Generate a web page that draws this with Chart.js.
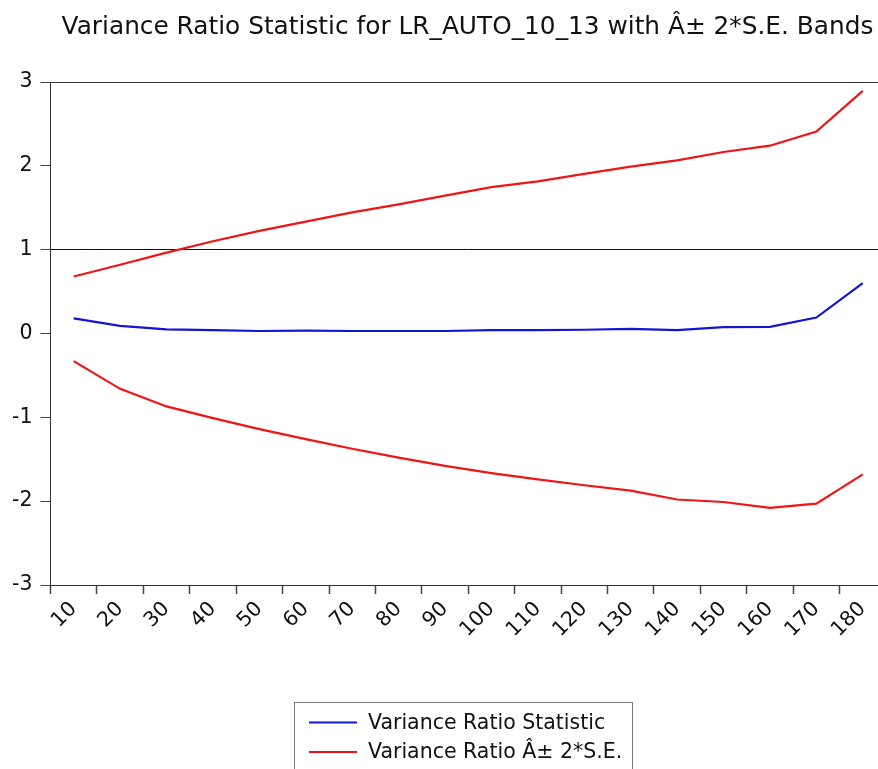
<!DOCTYPE html>
<html>
<head>
<meta charset="utf-8">
<title>Variance Ratio Statistic for LR_AUTO_10_13</title>
<script src="https://cdn.jsdelivr.net/npm/chart.js@4/dist/chart.umd.min.js"></script>
<style>
  html, body { margin: 0; padding: 0; background: #fff; overflow: hidden; }
  #wrap { width: 878px; height: 769px; overflow: hidden; position: relative; }
  canvas { display: block; }
</style>
</head>
<body>
<div id="wrap"><canvas id="chart" width="900" height="769"></canvas></div>
<script>
// Lags (periods) for the variance ratio test
const lags = ['10','20','30','40','50','60','70','80','90','100','110','120','130','140','150','160','170','180'];

// Variance ratio statistic at each lag
const vrStat = [0.18, 0.09, 0.05, 0.04, 0.03, 0.035, 0.03, 0.03, 0.03, 0.04, 0.04, 0.045, 0.055, 0.04, 0.075, 0.08, 0.19, 0.60];

// Upper band: statistic + 2*S.E.
const upperBand = [0.68, 0.82, 0.965, 1.10, 1.225, 1.335, 1.445, 1.54, 1.645, 1.745, 1.815, 1.905, 1.99, 2.065, 2.165, 2.24, 2.41, 2.895];

// Lower band: statistic - 2*S.E.
const lowerBand = [-0.33, -0.66, -0.87, -1.01, -1.14, -1.26, -1.375, -1.48, -1.58, -1.665, -1.74, -1.81, -1.875, -1.98, -2.01, -2.08, -2.03, -1.68];

// Y axis tick values
const yTicks = [-3, -2, -1, 0, 1, 2, 3];

const titleText = 'Variance Ratio Statistic for LR_AUTO_10_13 with Â± 2*S.E. Bands';
const statLabel = 'Variance Ratio Statistic';
const bandLabel = 'Variance Ratio Â± 2*S.E.';

const FONT = '"DejaVu Sans", "Liberation Sans", Arial, sans-serif';
const BLUE = '#1414d6';
const RED = '#f01414';

// Title drawn above the plot
const titlePlugin = {
  id: 'topTitle',
  afterDraw(chart) {
    const ctx = chart.ctx;
    ctx.save();
    ctx.font = '24.8px ' + FONT;
    ctx.fillStyle = '#111';
    ctx.textAlign = 'center';
    ctx.textBaseline = 'middle';
    ctx.fillText(titleText, 467.5, 28);
    ctx.restore();
  }
};

// Top and right edges of the plotting frame (left/bottom come from the axes)
const framePlugin = {
  id: 'frame',
  afterDatasetsDraw(chart) {
    const {ctx, chartArea: a} = chart;
    const t = Math.round(a.top) + 0.5;
    const r = Math.round(a.right) - 0.5;
    ctx.save();
    ctx.strokeStyle = '#333';
    ctx.lineWidth = 1;
    ctx.beginPath();
    ctx.moveTo(a.left, t);
    ctx.lineTo(r, t);
    ctx.lineTo(r, a.bottom);
    ctx.stroke();
    ctx.restore();
  }
};

// Boxed legend below the axis, one entry per distinct label
const boxLegend = {
  id: 'boxLegend',
  afterDraw(chart) {
    const ctx = chart.ctx;
    const seen = new Set();
    const items = [];
    chart.data.datasets.forEach(ds => {
      if (!seen.has(ds.label)) { seen.add(ds.label); items.push(ds); }
    });
    const left = 294, top = 702, width = 338, rowH = 29.5;
    ctx.save();
    ctx.strokeStyle = '#777';
    ctx.lineWidth = 1;
    ctx.strokeRect(left + 0.5, top + 0.5, width, 120);
    ctx.font = '20.5px ' + FONT;
    ctx.textBaseline = 'middle';
    ctx.textAlign = 'left';
    items.forEach((ds, i) => {
      const y = top + 20.5 + i * rowH;
      ctx.strokeStyle = ds.borderColor;
      ctx.lineWidth = 2;
      ctx.beginPath();
      ctx.moveTo(309, y);
      ctx.lineTo(357, y);
      ctx.stroke();
      ctx.fillStyle = '#111';
      ctx.fillText(ds.label, 368, y + 1);
    });
    ctx.restore();
  }
};

new Chart(document.getElementById('chart'), {
  type: 'line',
  data: {
    labels: lags,
    datasets: [
      { label: statLabel, data: vrStat, borderColor: BLUE, backgroundColor: BLUE,
        borderWidth: 2.2, pointRadius: 0, tension: 0, fill: false },
      { label: bandLabel, data: upperBand, borderColor: RED, backgroundColor: RED,
        borderWidth: 2.2, pointRadius: 0, tension: 0, fill: false },
      { label: bandLabel, data: lowerBand, borderColor: RED, backgroundColor: RED,
        borderWidth: 2.2, pointRadius: 0, tension: 0, fill: false }
    ]
  },
  options: {
    responsive: false,
    animation: false,
    layout: { padding: { top: 82, left: 12, right: 14, bottom: 132 } },
    plugins: {
      legend: { display: false },
      title: { display: false },
      tooltip: { enabled: false }
    },
    scales: {
      x: {
        type: 'category',
        offset: true,
        afterFit(scale) { scale.height = 52; },
        grid: {
          offset: true,
          drawOnChartArea: false,
          drawTicks: true,
          tickLength: 9,
          tickColor: '#444',
          tickWidth: 1.5
        },
        border: { display: true, color: '#333', width: 1 },
        ticks: {
          autoSkip: false,
          maxRotation: 45,
          minRotation: 45,
          padding: 3,
          color: '#111',
          font: { family: FONT, size: 20.5 }
        }
      },
      y: {
        min: -3,
        max: 3,
        afterFit(scale) { scale.width = 38.5; },
        afterBuildTicks(scale) { scale.ticks = yTicks.map(v => ({ value: v })); },
        grid: {
          drawTicks: true,
          tickLength: 10,
          tickColor: '#444',
          color: c => (c.tick && c.tick.value === 1) ? '#111' : 'rgba(0,0,0,0)',
          lineWidth: 1
        },
        border: { display: true, color: '#333', width: 1 },
        ticks: {
          padding: 8,
          color: '#111',
          font: { family: FONT, size: 20.5 }
        }
      }
    }
  },
  plugins: [framePlugin, titlePlugin, boxLegend]
});
</script>
</body>
</html>
